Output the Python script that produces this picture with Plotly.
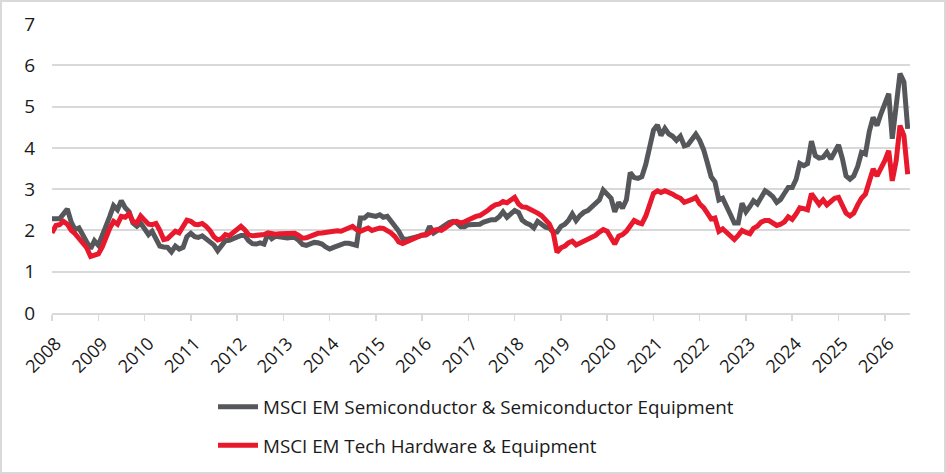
import pandas as pd
import plotly.graph_objects as go

start_month = "2008-01-01"
n_months = 223

semi_name = "MSCI EM Semiconductor & Semiconductor Equipment"
hw_name = "MSCI EM Tech Hardware & Equipment"

semi_values = [
    2.28, 2.28, 2.28, 2.40, 2.52, 2.20, 2.02, 2.06, 1.85, 1.72, 1.56, 1.75,
    1.64, 1.85, 2.10, 2.34, 2.60, 2.50, 2.72, 2.55, 2.45, 2.18, 2.10, 2.18,
    2.02, 1.90, 1.98, 1.78, 1.62, 1.60, 1.59, 1.48, 1.62, 1.55, 1.59, 1.85,
    1.93, 1.85, 1.83, 1.87, 1.80, 1.74, 1.65, 1.51, 1.62, 1.75, 1.76, 1.80,
    1.87, 1.88, 1.88, 1.75, 1.68, 1.67, 1.70, 1.67, 1.92, 1.80, 1.86, 1.84,
    1.81, 1.82, 1.83, 1.83, 1.76, 1.66, 1.64, 1.67, 1.71, 1.70, 1.67, 1.60,
    1.55, 1.59, 1.62, 1.65, 1.69, 1.69, 1.66, 1.64, 2.30, 2.30, 2.38, 2.36,
    2.34, 2.38, 2.32, 2.34, 2.24, 2.10, 1.98, 1.80, 1.78, 1.81, 1.83, 1.87,
    1.88, 1.90, 2.10, 1.94, 2.00, 2.08, 2.14, 2.19, 2.22, 2.18, 2.09, 2.09,
    2.14, 2.14, 2.12, 2.15, 2.20, 2.24, 2.26, 2.26, 2.33, 2.45, 2.32, 2.40,
    2.48, 2.43, 2.25, 2.18, 2.14, 2.06, 2.22, 2.15, 2.08, 2.06, 1.96, 1.96,
    2.10, 2.15, 2.24, 2.40, 2.24, 2.36, 2.44, 2.48, 2.58, 2.68, 2.74, 2.98,
    2.88, 2.78, 2.45, 2.68, 2.54, 2.74, 3.40, 3.28, 3.26, 3.30, 3.60, 4.05,
    4.43, 4.55, 4.30, 4.47, 4.34, 4.28, 4.18, 4.28, 4.05, 4.08, 4.20, 4.33,
    4.18, 3.95, 3.65, 3.30, 3.18, 2.74, 2.78, 2.60, 2.38, 2.18, 2.18, 2.66,
    2.45, 2.58, 2.72, 2.64, 2.82, 2.96, 2.90, 2.82, 2.68, 2.75, 2.90, 3.04,
    3.04, 3.24, 3.62, 3.57, 3.62, 4.16, 3.81, 3.75, 3.77, 3.89, 3.73, 3.93,
    4.07, 3.73, 3.32, 3.24, 3.32, 3.55, 3.89, 3.85, 4.40, 4.74, 4.54, 4.82,
    5.07, 5.31, 4.22, 4.91, 5.80, 5.60, 4.46,
]

hw_values = [
    1.94, 2.12, 2.14, 2.22, 2.15, 2.00, 1.92, 1.80, 1.68, 1.58, 1.37, 1.40,
    1.43, 1.60, 1.85, 2.05, 2.22, 2.15, 2.34, 2.32, 2.40, 2.22, 2.18, 2.35,
    2.25, 2.15, 2.14, 2.17, 2.00, 1.78, 1.80, 1.90, 1.98, 1.94, 2.10, 2.25,
    2.22, 2.15, 2.14, 2.17, 2.10, 2.00, 1.85, 1.77, 1.80, 1.90, 1.87, 1.95,
    2.05, 2.10, 2.02, 1.90, 1.87, 1.87, 1.87, 1.90, 1.94, 1.91, 1.91, 1.92,
    1.92, 1.92, 1.93, 1.93, 1.88, 1.81, 1.82, 1.86, 1.92, 1.93, 1.94, 1.95,
    1.96, 2.00, 1.99, 1.98, 2.03, 2.07, 2.10, 2.02, 1.98, 2.02, 2.06, 2.00,
    2.03, 2.06, 2.05, 2.00, 1.94, 1.85, 1.72, 1.68, 1.72, 1.77, 1.82, 1.87,
    1.89, 1.89, 1.95, 2.00, 2.02, 2.00, 2.06, 2.15, 2.20, 2.22, 2.18, 2.21,
    2.26, 2.31, 2.34, 2.36, 2.41, 2.48, 2.56, 2.62, 2.64, 2.70, 2.67, 2.74,
    2.80, 2.64, 2.57, 2.56, 2.52, 2.46, 2.42, 2.36, 2.25, 2.16, 1.95, 1.47,
    1.58, 1.62, 1.70, 1.74, 1.65, 1.70, 1.75, 1.78, 1.82, 1.88, 1.96, 2.02,
    1.98, 1.80, 1.67, 1.86, 1.90, 1.98, 2.10, 2.24, 2.19, 2.16, 2.35, 2.60,
    2.90, 2.96, 2.92, 2.96, 2.93, 2.88, 2.82, 2.78, 2.68, 2.70, 2.75, 2.80,
    2.64, 2.55, 2.40, 2.28, 2.30, 1.98, 2.04, 1.94, 1.85, 1.78, 1.88, 2.00,
    1.95, 1.92, 2.05, 2.10, 2.20, 2.24, 2.24, 2.18, 2.12, 2.15, 2.21, 2.33,
    2.27, 2.40, 2.55, 2.53, 2.50, 2.89, 2.76, 2.63, 2.74, 2.62, 2.70, 2.78,
    2.80, 2.60, 2.42, 2.35, 2.42, 2.62, 2.78, 2.88, 3.15, 3.49, 3.32, 3.49,
    3.69, 3.93, 3.20, 3.69, 4.54, 4.30, 3.36,
]

dates = pd.date_range(start_month, periods=n_months, freq="MS")

GREY = "#55575b"
RED = "#e8192c"
GRID = "#d9d9d9"
FONT = "Open Sans"
TXT = "#1a1a1a"

fig = go.Figure()
fig.add_trace(go.Scatter(x=dates, y=semi_values, mode="lines", name=semi_name,
                         legendgroup="a", line=dict(color=GREY, width=5)))
fig.add_trace(go.Scatter(x=dates, y=hw_values, mode="lines", name=hw_name,
                         legendgroup="b", line=dict(color=RED, width=5)))

L, R, T, B = 52, 36, 24, 161
W, H = 946, 474
pw = W - L - R
ph = H - T - B

fig.update_layout(
    width=W, height=H,
    margin=dict(l=L, r=R, t=T, b=B, autoexpand=False),
    paper_bgcolor="white", plot_bgcolor="white",
    font=dict(family=FONT, size=18, color=TXT),
    showlegend=True,
    legend=dict(orientation="v", x=(213 - L) / pw, xanchor="left",
                y=(T + ph - 388) / ph, yanchor="top",
                font=dict(family=FONT, size=18.8, color=TXT),
                tracegroupgap=11, itemwidth=40, bgcolor="rgba(0,0,0,0)"),
    xaxis=dict(
        type="date", range=["2008-01-01", "2026-07-19"],
        tick0="2008-01-01", dtick="M12", tickformat="%Y",
        tickangle=-45, ticks="outside", ticklen=6, tickcolor=GRID, tickwidth=1.5,
        showgrid=False, showline=True, linecolor=GRID, linewidth=2,
        tickfont=dict(family=FONT, size=18, color=TXT), zeroline=False,
        ticklabelstandoff=5, ticklabelshift=4,
    ),
    yaxis=dict(
        range=[0, 7], dtick=1, showgrid=True, gridcolor=GRID, gridwidth=2,
        zeroline=False, showline=False, ticks="",
        tickfont=dict(family=FONT, size=19, color=TXT),
        ticklabelstandoff=16,
    ),
    shapes=[dict(type="rect", xref="paper", yref="paper",
                 x0=-(L - 1) / pw, x1=1 + (R - 1) / pw,
                 y0=-(B - 1) / ph, y1=1 + (T - 1) / ph,
                 line=dict(color="#d9d9d9", width=2), fillcolor="rgba(0,0,0,0)",
                 layer="below")],
)

fig.write_html("out.html", config={"displayModeBar": False, "staticPlot": True})

with open("out.html", "r", encoding="utf-8") as f:
    html = f.read()
html = html.replace("<body>", '<body style="margin:0;padding:0;">', 1)
html = html.replace("<head>", "<head><style>html,body{margin:0;padding:0;overflow:hidden;}</style>", 1)
with open("out.html", "w", encoding="utf-8") as f:
    f.write(html)
